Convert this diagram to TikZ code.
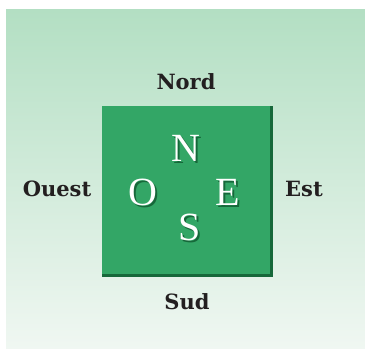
\documentclass[tikz,border=0pt]{standalone}
\usepackage{fontspec}
\newfontfamily\labelfont{DejaVu Serif}
\newfontfamily\letterfont{Liberation Serif}
\definecolor{paneltop}{RGB}{179,223,195}
\definecolor{panelbottom}{RGB}{240,247,242}
\definecolor{boxgreen}{RGB}{51,166,102}
\definecolor{boxdark}{RGB}{22,104,58}
\definecolor{labelink}{RGB}{35,31,32}
\tikzset{%
		richtung/.style={text=labelink,font=\labelfont\bfseries\fontsize{21}{23}\selectfont,inner sep=0pt,anchor=base},
		buchstabe/.style={text=white,font=\letterfont\fontsize{40}{44}\selectfont,inner sep=0pt,anchor=base},
		schatten/.style={text=boxdark,font=\letterfont\fontsize{40}{44}\selectfont,inner sep=0pt,anchor=base}
	}
\newcommand{\zeichen}[4]{
		\node[schatten] at (#1+1.5,#2-1.5) {#4};
		\node[buchstabe] (#3) at (#1,#2) {#4};
	}
\begin{document}
\begin{tikzpicture}[x=1pt,y=1pt]
      \useasboundingbox (0,0) rectangle (365,350);
      \shade[top color=paneltop,bottom color=panelbottom] (6,1) rectangle (365,340);
      % quadrat
      \fill[boxdark] (102,73) rectangle (273,244);
      \fill[boxgreen] (102,76) rectangle (270,244);
      \zeichen{186}{188}{n}{N}
      \zeichen{143}{144}{o}{O}
      \zeichen{228}{144}{e}{E}
      \zeichen{190}{109}{s}{S}
      % beschriftung
      \node[richtung] (nord) at (186,260) {Nord};
      \node[richtung] (sud) at (187,40) {Sud};
      \node[richtung] (ouest) at (57,153) {Ouest};
      \node[richtung] (est) at (304,153) {Est};
\end{tikzpicture}
\end{document}
